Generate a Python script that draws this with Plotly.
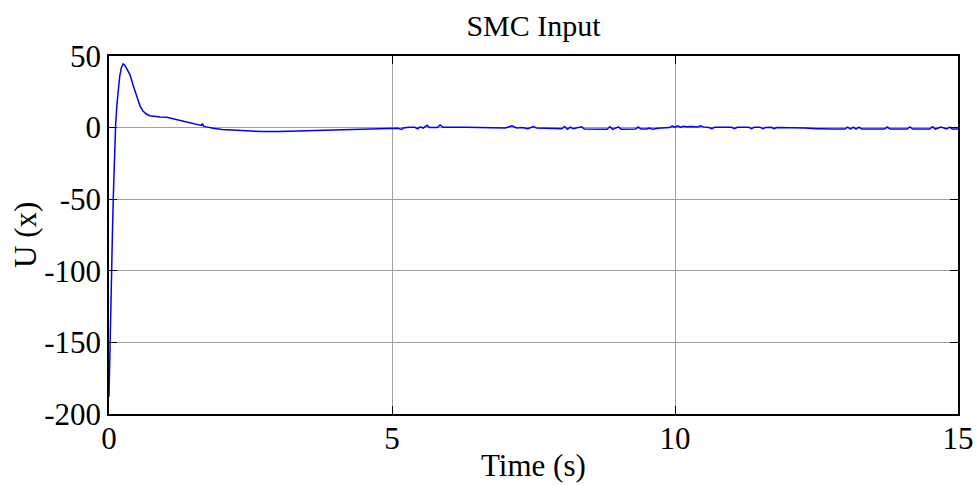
import plotly.graph_objects as go

# Transient part of the SMC control input
t_transient = [0, 0.01, 0.03, 0.047, 0.06, 0.075, 0.095, 0.117, 0.14, 0.164, 0.19, 0.22, 0.25,
               0.28, 0.32, 0.37, 0.43, 0.49, 0.55, 0.6, 0.66, 0.72, 0.8, 0.9, 1.02, 1.15,
               1.31, 1.45, 1.58, 1.63, 1.65, 1.67, 1.72, 1.84, 2.0, 2.31, 2.72, 3.0, 3.2,
               3.6, 4.0, 4.5, 4.9]
u_transient = [-188, -172, -143, -97, -75, -50, -22, 2, 16, 27, 36, 42, 44.4,
               43.5, 41, 37, 29, 21.6, 15, 11.5, 9.5, 8.3, 7.7, 7.4, 7.2, 6,
               4.2, 3, 2, 1.5, 2.8, 1, 0.5, -0.5, -1.3, -2.1, -2.8, -2.8, -2.6,
               -2.2, -1.8, -1.2, -0.6]

# Steady-state chattering part
t_steady = [5.1, 5.17, 5.2, 5.3, 5.4, 5.45, 5.5, 5.55, 5.62, 5.66, 5.8, 5.85, 5.9, 6.3,
            6.5, 7.0, 7.12, 7.2, 7.3, 7.4, 7.5, 7.55, 8.0, 8.05, 8.1, 8.15, 8.2, 8.35, 8.4,
            8.8, 8.85, 8.9, 9.0, 9.05, 9.3, 9.35, 9.4, 9.5, 9.55, 9.6, 9.7, 9.9, 9.95, 10.0,
            10.05, 10.1, 10.15, 10.2, 10.3, 10.4, 10.45, 10.5, 10.6, 10.65, 10.7, 11.0,
            11.05, 11.1, 11.3, 11.35, 11.4, 11.5, 11.55, 11.6, 11.7, 11.75, 11.8, 12.2,
            12.3, 12.5, 12.55, 12.6, 12.8, 13.0, 13.05, 13.1, 13.15, 13.2, 13.25, 13.3,
            13.7, 13.75, 13.8, 14.1, 14.15, 14.2, 14.5, 14.55, 14.6, 14.7, 14.8, 14.85,
            14.9, 15.0]
u_steady = [-0.4, -1.3, -0.3, 0.2, 0.3, -0.8, 0.5, -0.3, 1.6, 0.0, 0.0, 1.8, 0.2, 0.2,
            0.0, -0.3, 1.2, -0.3, 0.0, -0.8, 0.8, -0.2, -0.8, 0.8, -1.2, 0.3, -0.8, 0.5, -1.0,
            -1.2, 0.6, -1.2, 0.5, -1.2, -1.0, 0.4, -1.0, -1.0, -0.3, -1.2, -0.5, 0.0, 1.0, 0.3,
            1.2, 0.2, 1.0, 0.6, 0.8, 0.5, 1.3, 0.5, 0.0, -0.8, 0.2, 0.2,
            -0.8, 0.2, 0.3, -0.8, 0.2, 0.3, -0.8, 0.1, 0.2, -0.8, 0.0, 0.0,
            -0.3, -0.8, -1.0, -0.8, -1.0, -1.0, 0.3, -1.0, 0.3, -1.0, 0.3, -1.0,
            -1.0, 0.4, -1.0, -1.0, 0.5, -1.0, -1.0, 0.6, -1.0, 0.4, -1.0, 0.3,
            -1.0, -1.0]

time = t_transient + t_steady
u = u_transient + u_steady

x_ticks = [0, 5, 10, 15]
y_ticks = [-200, -150, -100, -50, 0, 50]

font_family = "Liberation Serif, Times New Roman, serif"
W, H = 977, 486

fig = go.Figure()
fig.add_trace(go.Scatter(x=time, y=u, mode="lines",
                         line=dict(color="#0000FF", width=1.5), showlegend=False))

axis_common = dict(showline=True, linecolor="black", linewidth=1.5, mirror="ticks",
                   ticks="inside", ticklen=8, tickcolor="black", showgrid=True,
                   gridcolor="#a0a0a0", gridwidth=1, zeroline=False, automargin=False,
                   ticklabeloverflow="allow",
                   tickfont=dict(family=font_family, size=31, color="black"))

fig.update_xaxes(range=[0, 15], tickvals=x_ticks, ticktext=[str(v) for v in x_ticks],
                 ticklabelstandoff=-4, **axis_common)
fig.update_yaxes(range=[-200, 50], tickvals=y_ticks, ticktext=[str(v) for v in y_ticks],
                 **axis_common)

fig.add_annotation(text="Time (s)", xref="paper", yref="paper", x=0.5,
                   y=-(465 - 414) / (H - 56 - 72), xanchor="center", yanchor="middle",
                   showarrow=False, font=dict(family=font_family, size=31, color="black"))
fig.add_annotation(text="U (x)", xref="paper", yref="paper",
                   x=-(109 - 25) / (W - 109 - 19), y=0.5, xanchor="center", yanchor="middle",
                   textangle=-90, showarrow=False,
                   font=dict(family=font_family, size=31, color="black"))

fig.update_layout(
    width=W, height=H,
    margin=dict(l=109, r=19, t=56, b=72),
    paper_bgcolor="white", plot_bgcolor="white",
    title=dict(text="SMC Input", x=0.5, xref="paper", y=1 - 25 / H, yref="container",
               xanchor="center", yanchor="middle",
               font=dict(family=font_family, size=30, color="black")),
)

fig.write_html("out.html")
